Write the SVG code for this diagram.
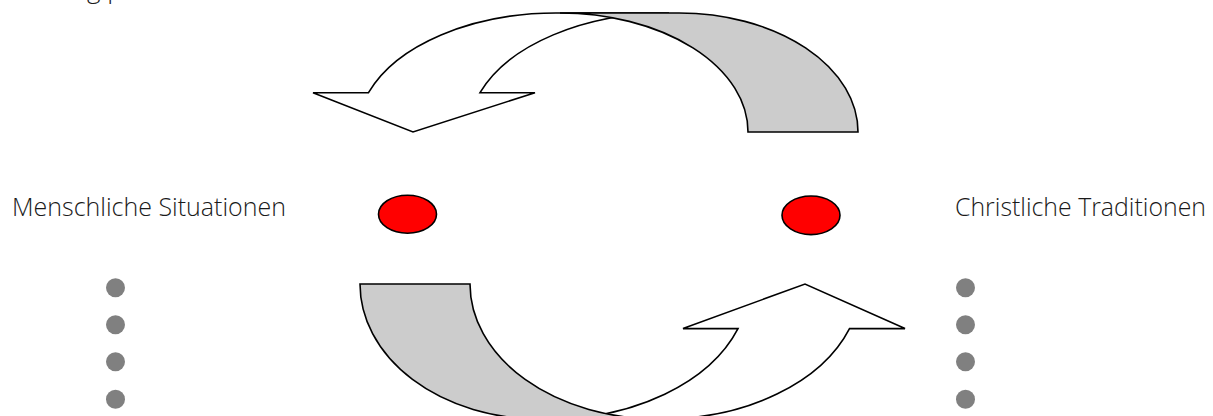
<svg xmlns="http://www.w3.org/2000/svg" width="1213" height="416" viewBox="0 0 1213 416">
<style>
.lbl{font-family:"Open Sans","Noto Sans","Liberation Sans",sans-serif;font-size:26px;font-weight:300;fill:#1a1a1a}
.front{fill:#ffffff;stroke:#000;stroke-width:1.6;stroke-linejoin:miter}
.back{fill:#cccccc;stroke:#000;stroke-width:1.6;stroke-linejoin:miter}
.node{fill:#ff0000;stroke:#000;stroke-width:1.6}
.dot{fill:#808080}
</style>
<rect width="1213" height="416" fill="#ffffff"/>
<text class="lbl" x="87" y="-2">g p</text>
<g id="connectors">
  <g id="arrow-top">
    <path class="front" d="M368.5,92.7 L313,92.7 L413,132 L535,92.7 L480,92.7 A200,119.5 0 0 1 669,13 L556,13 A199,119 0 0 0 368.5,92.7 Z"/>
    <path class="back" d="M748,132 L858,132 A179,119 0 0 0 679,13 L560,13 A188,119 0 0 1 748,132 Z"/>
  </g>
  <g id="arrow-bottom">
    <path class="front" d="M849.5,328.6 L905,328.6 L805,284 L683,328.6 L738,328.6 A200,135.6 0 0 1 549,419 L662,419 A199,135.1 0 0 0 849.5,328.6 Z"/>
    <path class="back" d="M470,284 L360,284 A179,135.1 0 0 0 539,419 L658,419 A188,135.1 0 0 1 470,284 Z"/>
  </g>
</g>
<g id="node-left">
  <text class="lbl" x="12" y="216" textLength="274" lengthAdjust="spacingAndGlyphs">Menschliche Situationen</text>
  <ellipse class="node" cx="407.5" cy="214.2" rx="29" ry="19"/>
  <circle class="dot" cx="115.5" cy="287.7" r="9.5"/>
  <circle class="dot" cx="115.5" cy="324.7" r="9.5"/>
  <circle class="dot" cx="115.5" cy="361.7" r="9.5"/>
  <circle class="dot" cx="115.5" cy="399.3" r="9.5"/>
</g>
<g id="node-right">
  <text class="lbl" x="955" y="216" textLength="251" lengthAdjust="spacingAndGlyphs">Christliche Traditionen</text>
  <ellipse class="node" cx="811" cy="215.3" rx="29" ry="19.3"/>
  <circle class="dot" cx="965.5" cy="287.7" r="9.5"/>
  <circle class="dot" cx="965.5" cy="324.7" r="9.5"/>
  <circle class="dot" cx="965.5" cy="361.7" r="9.5"/>
  <circle class="dot" cx="965.5" cy="399.3" r="9.5"/>
</g>
</svg>
